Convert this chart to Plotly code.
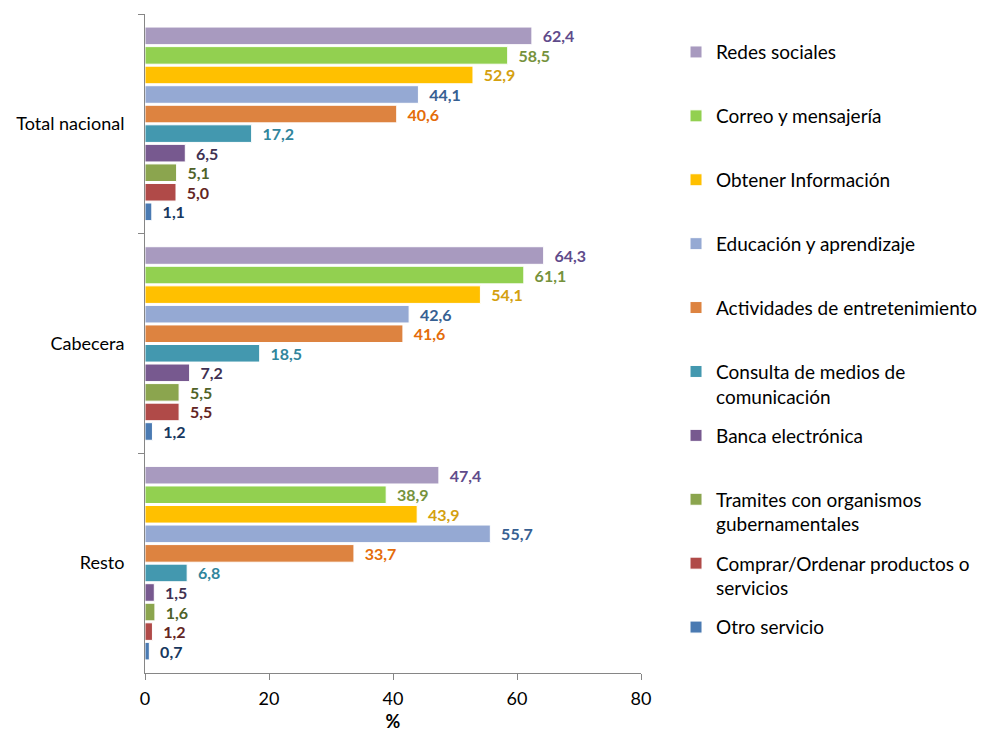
import plotly.graph_objects as go

categories = ["Total nacional", "Cabecera", "Resto"]

series_names = [
    "Redes sociales",
    "Correo y mensajería",
    "Obtener Información",
    "Educación y aprendizaje",
    "Actividades de entretenimiento",
    "Consulta de medios de<br>comunicación",
    "Banca electrónica",
    "Tramites con organismos<br>gubernamentales",
    "Comprar/Ordenar productos o<br>servicios",
    "Otro servicio",
]

redes_sociales = [62.4, 64.3, 47.4]
correo = [58.5, 61.1, 38.9]
obtener_info = [52.9, 54.1, 43.9]
educacion = [44.1, 42.6, 55.7]
entretenimiento = [40.6, 41.6, 33.7]
consulta_medios = [17.2, 18.5, 6.8]
banca = [6.5, 7.2, 1.5]
tramites = [5.1, 5.5, 1.6]
comprar = [5.0, 5.5, 1.2]
otro = [1.1, 1.2, 0.7]

series_values = [redes_sociales, correo, obtener_info, educacion, entretenimiento,
                 consulta_medios, banca, tramites, comprar, otro]

bar_colors = ["#A89ABF", "#92D050", "#FFC000", "#95A9D3", "#DD8340",
              "#4398AF", "#77598F", "#8BA54E", "#B04A48", "#4A7AB2"]
label_colors = ["#5F4B8B", "#76923C", "#D4A00F", "#376092", "#E46C0A",
                "#31859C", "#403152", "#4F6228", "#632523", "#17375E"]

fig = go.Figure()
for i, (name, vals) in enumerate(zip(series_names, series_values)):
    legend_name = name if "<br>" in name else name + "<br>\u00a0"
    fig.add_trace(go.Bar(
        y=categories, x=vals, name=legend_name, orientation="h",
        marker=dict(color=bar_colors[i], line=dict(color="white", width=1)),
        texttemplate="\u00a0\u00a0%{x:.1f}", textposition="outside",
        textfont=dict(family="Lato", size=16, color=label_colors[i], weight="bold"),
        constraintext="none", cliponaxis=False, legendgroup=str(i),
    ))

fig.update_layout(
    barmode="group", bargap=0.11, bargroupgap=0.1,
    separators=",.",
    width=985, height=724,
    margin=dict(l=137, r=352, t=6, b=59, autoexpand=False),
    plot_bgcolor="white", paper_bgcolor="white",
    font=dict(family="Lato", size=18, color="black"),
    showlegend=True,
    legend=dict(x=1.0706, xanchor="left", y=0.971, yanchor="top",
                traceorder="grouped", valign="top", tracegroupgap=11.5,
                font=dict(size=19), itemwidth=30),
    xaxis=dict(range=[0, 80], dtick=20, showgrid=False, zeroline=False,
               showline=True, linecolor="#868686", linewidth=1,
               ticks="outside", ticklen=6, tickcolor="#868686",
               tickfont=dict(size=18), ticklabelstandoff=3, automargin=True,
               title=dict(text="<b>%</b>", font=dict(size=18), standoff=25)),
    yaxis=dict(autorange="reversed", showgrid=False, showline=True,
               linecolor="#868686", linewidth=1, ticks="outside", ticklen=6,
               tickcolor="#868686", tickson="boundaries", automargin=False,
               tickfont=dict(size=18), ticklabelstandoff=16),
)

fig.write_html("out.html")
